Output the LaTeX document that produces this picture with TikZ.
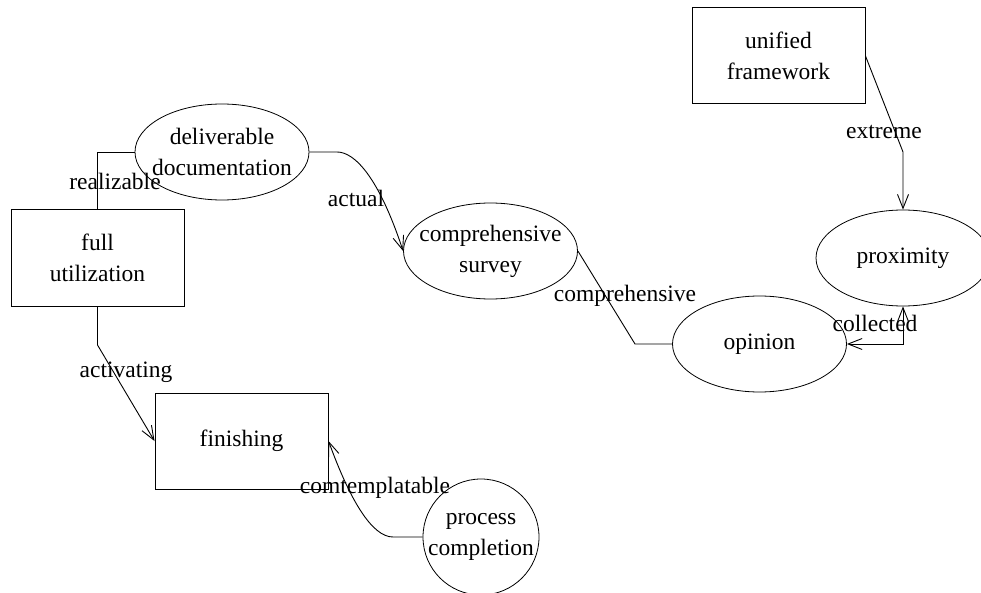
\documentclass[tikz,border=0pt]{standalone}
\usepackage{fontspec}
\setmainfont{Liberation Serif}
\usetikzlibrary{arrows.meta,shapes.geometric}
\begin{document}
\begin{tikzpicture}[x=1pt,y=-1pt,
  every node/.style={font=\fontsize{23.5}{31}\selectfont},
  box/.style={draw,line width=1pt,minimum width=173pt,minimum height=96pt,align=center,inner sep=0pt},
  oval/.style={draw,ellipse,line width=0.8pt,minimum width=174pt,minimum height=96pt,inner sep=0pt},
  round/.style={draw,circle,line width=0.8pt,minimum size=116pt,inner sep=0pt},
  txt/.style={align=center,inner sep=0pt},
  conn/.style={line width=0.9pt},
  arr/.style={conn,-{Straight Barb[length=14pt,width=11pt]}},
  both/.style={conn,{Straight Barb[length=14pt,width=11pt]}-{Straight Barb[length=14pt,width=11pt]}},
  lab/.style={inner sep=0pt}]
\useasboundingbox (0,0) rectangle (981,593);
\node[box] (uf) at (778.5,56) {unified\\framework};
\node[oval] (dd) at (222,152) {};
\node[txt] (ddt) at (dd) {deliverable\\documentation};
\node[box] (fu) at (97.5,258) {full\\utilization};
\node[oval] (cs) at (490.5,251) {};
\node[txt] (cst) at (cs) {comprehensive\\survey};
\node[oval] (px) at (903,258) {};
\node[txt] (pxt) at (px) {proximity};
\node[oval] (op) at (759.5,344) {};
\node[txt] (opt) at (op) {opinion};
\node[box] (fin) at (241.5,441) {finishing};
\node[round] (pc) at (481,537) {};
\node[txt] (pct) at (pc) {process\\completion};

\coordinate (c1) at (337,152);
\coordinate (c2) at (635,344);
\coordinate (c3) at (903,152);
\coordinate (c4) at (97.5,345);
\coordinate (c5) at (393,537);

\draw[conn] (fu.north) |- (dd.west);
\draw[arr] (dd.east) -- (c1) .. controls (355,152) and (379,178) .. (cs.west);
\draw[conn] (cs.east) -- (c2) -- (op.west);
\draw[both] (px.south) |- (op.east);
\draw[arr] (uf.east) -- (c3) -- (px.north);
\draw[arr] (fu.south) -- (c4) -- (fin.west);
\draw[arr] (pc.west) -- (c5) .. controls (372,537) and (350,500) .. (fin.east);

\node[lab] (l1) at (115,181) {realizable};
\node[lab] (l2) at (356,198) {actual};
\node[lab] (l3) at (625,296) {comprehensive};
\node[lab] (l4) at (875,323) {collected};
\node[lab] (l5) at (884,132) {extreme};
\node[lab] (l6) at (126,372) {activating};
\node[lab] (l7) at (375,488) {comtemplatable};
\end{tikzpicture}
\end{document}
